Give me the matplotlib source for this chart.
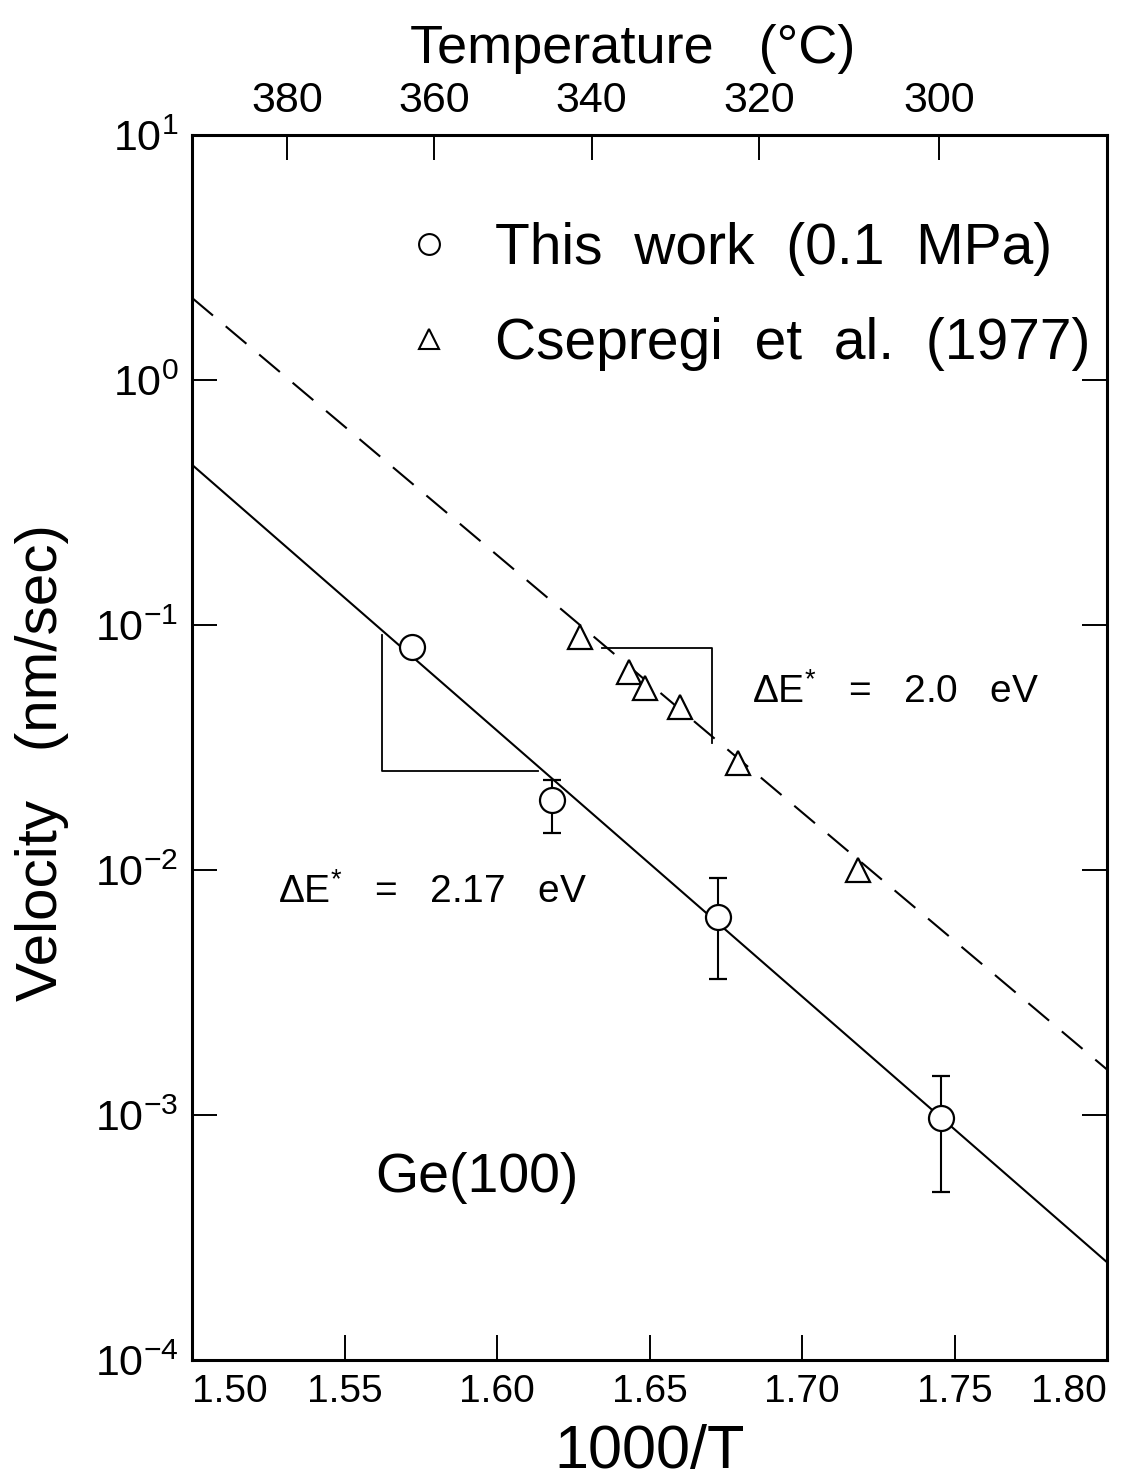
"""Ge(100) solid-phase regrowth velocity vs 1000/T (Arrhenius plot)."""
import numpy as np
import matplotlib
matplotlib.use("Agg")
import matplotlib.pyplot as plt
from matplotlib.lines import Line2D

plt.rcParams["font.family"] = ["Liberation Sans", "DejaVu Sans"]
plt.rcParams["mathtext.fontset"] = "custom"
plt.rcParams["mathtext.rm"] = "Liberation Sans"
plt.rcParams["mathtext.it"] = "Liberation Sans:italic"

# this work (0.1 MPa), with error bars
work_x = [1.572, 1.618, 1.6725, 1.7456]
work_v = [0.081, 0.0193, 0.00643, 0.000973]
work_lo = [0.081, 0.01416, 0.00359, 0.000485]
work_hi = [0.081, 0.0233, 0.00927, 0.00144]

# Csepregi et al. (1977)
csep_x = [1.6272, 1.6433, 1.6485, 1.660, 1.679, 1.7184]
csep_v = [0.0893, 0.0643, 0.0553, 0.0462, 0.0273, 0.0100]

# fitted Arrhenius lines (end points)
fit_x = [1.50, 1.80]
fit_work = [0.45, 2.5e-4]
fit_csep = [2.16, 1.53e-3]

# slope triangles
tri_work_x = [1.5623, 1.5623, 1.6134]
tri_work_y = [0.091, 0.0253, 0.0253]
tri_csep_x = [1.6344, 1.6705, 1.6705]
tri_csep_y = [0.0805, 0.0805, 0.033]

x_ticks = [1.50, 1.55, 1.60, 1.65, 1.70, 1.75, 1.80]
x_labels = ["1.50", "1.55", "1.60", "1.65", "1.70", "1.75", "1.80"]
y_exps = [1, 0, -1, -2, -3, -4]
temps_c = [380, 360, 340, 320, 300]

fig = plt.figure(figsize=(11.31, 14.79), dpi=100)
ax = fig.add_axes([0.170, 0.0805, 0.809, 0.8282])

ax.plot(fit_x, fit_work, color="black", lw=1.5)
ax.plot(fit_x, fit_csep, color="black", lw=1.5, ls=(0, (13, 8)))
ax.plot(tri_work_x, tri_work_y, color="black", lw=1.3)
ax.plot(tri_csep_x, tri_csep_y, color="black", lw=1.3)

err = [np.array(work_v) - np.array(work_lo), np.array(work_hi) - np.array(work_v)]
ax.errorbar(work_x, work_v, yerr=err, fmt="o", ms=18, mfc="white", mec="black",
            mew=1.6, ecolor="black", elinewidth=1.5, capsize=6.5, capthick=1.5, zorder=3)
ax.plot(csep_x, csep_v, ls="none", marker="^", ms=17, mfc="white", mec="black",
        mew=1.6, zorder=3)

ax.set_yscale("log")
ax.set_xlim(1.50, 1.80)
ax.set_ylim(1e-4, 1e1)

ax.set_xticks(x_ticks)
ax.set_xticklabels(x_labels, fontsize=28)
xlabels = ax.get_xticklabels()
xlabels[0].set_ha("left")
xlabels[-1].set_ha("right")
ax.set_yticks([10.0 ** e for e in y_exps])
ax.set_yticklabels([r"$\mathregular{10^{%d}}$" % e for e in y_exps], fontsize=31)
ax.yaxis.set_minor_locator(matplotlib.ticker.NullLocator())
ax.tick_params(direction="in", length=18, width=1.4, right=True, top=False, pad=10)
ax.tick_params(axis="y", pad=10)
for side in ax.spines.values():
    side.set_linewidth(2.2)

# temperature scale on top
ax2 = ax.twiny()
ax2.set_xlim(ax.get_xlim())
ax2.set_xticks([1000.0 / (t + 273.15) for t in temps_c])
ax2.set_xticklabels([str(t) for t in temps_c], fontsize=31)
ax2.tick_params(direction="in", length=18, width=1.4, pad=10)
ax2.set_xlabel("Temperature   (°C)", fontsize=39)
ax2.xaxis.set_label_coords(0.481, 1.059)

ax.set_xlabel("1000/T", fontsize=44)
ax.xaxis.set_label_coords(0.50, -0.052)
ax.set_ylabel("Velocity   (nm/sec)", fontsize=42)
ax.yaxis.set_label_coords(-0.135, 0.488)

ax.text(1.6836, 0.048, "ΔE$^{*}$   =   2.0   eV", fontsize=28, va="baseline")
ax.text(1.5282, 0.00733, "ΔE$^{*}$   =   2.17   eV", fontsize=28, va="baseline")
ax.text(1.560, 4.85e-4, "Ge(100)", fontsize=40, va="baseline")

handles = [Line2D([], [], ls="none", marker="o", ms=15, mfc="white", mec="black", mew=1.5),
           Line2D([], [], ls="none", marker="^", ms=14, mfc="white", mec="black", mew=1.5)]
ax.legend(handles, ["This  work  (0.1  MPa)", "Csepregi  et  al.  (1977)"],
          loc="upper left", bbox_to_anchor=(0.2404, 0.929), frameon=False, fontsize=41,
          handlelength=0.6, handletextpad=0.85, labelspacing=0.72, borderaxespad=0, borderpad=0)

fig.savefig("out.png", dpi=100)
